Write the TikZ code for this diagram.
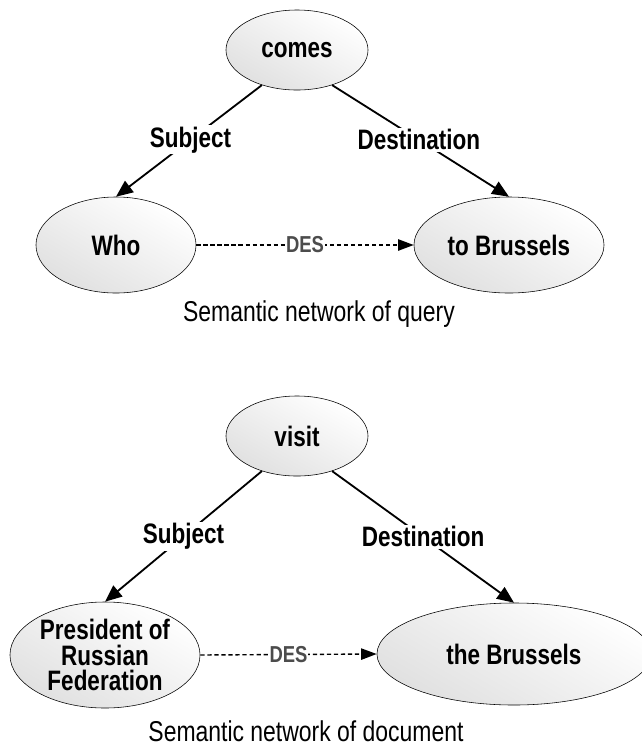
\documentclass[tikz,border=0pt]{standalone}
\usepackage{fontspec}
\setmainfont{Liberation Sans}[FakeStretch=0.8]
\usetikzlibrary{positioning, arrows.meta, shapes.geometric}

\begin{document}
\begin{tikzpicture}[
    x=0.025cm, y=-0.025cm,
    concept/.style={ellipse, draw=black, thin, top color=white, bottom color=black!12, shading angle=-30, inner sep=0pt, align=center, font=\fontsize{20}{18.4}\selectfont\bfseries},
    role/.style={fill=white, inner sep=1pt, font=\fontsize{20}{22}\selectfont\bfseries},
    des/.style={fill=white, inner sep=0.5pt, text=black!70, font=\fontsize{16.4}{18}\selectfont\bfseries},
    caption/.style={anchor=base, font=\fontsize{20.4}{22}\selectfont},
    arr/.style={-{Triangle[length=12pt, width=10pt]}, line width=1.3pt},
    darr/.style={-{Triangle[length=11pt, width=8pt]}, densely dashed, line width=1pt}
]
    \useasboundingbox (0,0) rectangle (642,746);

    % query
    \node[concept, minimum width=3.55cm, minimum height=2cm] (comes) at (297,50) {comes};
    \node[concept, minimum width=4cm, minimum height=2.4cm] (who) at (116,245) {Who};
    \node[concept, minimum width=4.75cm, minimum height=2.4cm] (tobr) at (509,245) {to Brussels};
    \node[caption] (capq) at (319,321) {Semantic network of query};

    \draw[arr] (comes.225) -- node[role, pos=0.49] {Subject} (who.north);
    \draw[arr] (comes.-45) -- node[role, pos=0.49] {Destination} (tobr.north);
    \draw[darr] (who.east) -- node[des, pos=0.5] {DES} (tobr.west);

    % document
    \node[concept, minimum width=3.55cm, minimum height=2cm] (visit) at (297,436) {visit};
    \node[concept, minimum width=4.75cm, minimum height=2.65cm] (pres) at (105,655) {President of\\Russian\\Federation};
    \node[concept, minimum width=6.85cm, minimum height=2.55cm] (thebr) at (514,654) {the Brussels};
    \node[caption] (capd) at (306,741) {Semantic network of document};

    \draw[arr] (visit.225) -- node[role, pos=0.5] {Subject} (pres.north);
    \draw[arr] (visit.-45) -- node[role, pos=0.5] {Destination} (thebr.north);
    \draw[darr] (pres.east) -- node[des, pos=0.5] {DES} (thebr.west);
\end{tikzpicture}
\end{document}
